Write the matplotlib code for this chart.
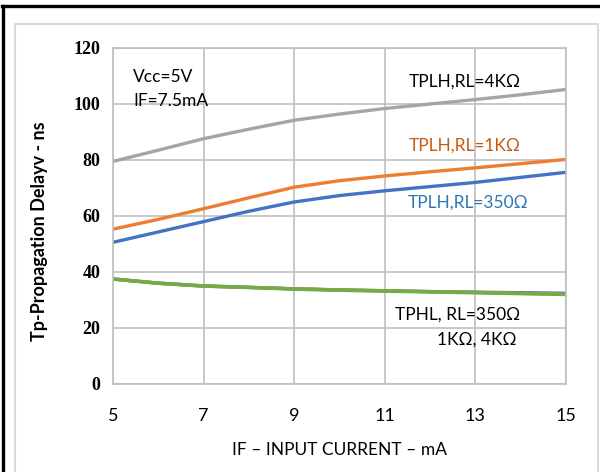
import matplotlib
matplotlib.use("Agg")
import matplotlib.pyplot as plt
from matplotlib.lines import Line2D
from matplotlib.patches import Rectangle

# input current, mA
i_f = [5, 6, 7, 8, 9, 10, 11, 12, 13, 14, 15]

# propagation delay, ns
tplh_4k = [79.5, 83.5, 87.6, 91.0, 94.2, 96.4, 98.4, 100.0, 101.6, 103.3, 105.2]
tplh_1k = [55.3, 58.8, 62.6, 66.5, 70.3, 72.6, 74.3, 75.8, 77.2, 78.7, 80.2]
tplh_350 = [50.6, 54.3, 58.0, 61.7, 65.0, 67.3, 69.0, 70.5, 72.0, 73.8, 75.6]
tphl_350 = [37.5, 36.0, 35.0, 34.5, 34.0, 33.6, 33.3, 33.0, 32.8, 32.6, 32.4]
tphl_1k = [37.5, 36.0, 35.0, 34.5, 34.0, 33.6, 33.3, 33.0, 32.7, 32.4, 32.1]
tphl_4k = [37.5, 36.0, 35.0, 34.5, 33.9, 33.5, 33.2, 32.9, 32.6, 32.3, 32.0]

x_ticks = [5, 7, 9, 11, 13, 15]
y_ticks = [0, 20, 40, 60, 80, 100, 120]

sans = ['Lato', 'DejaVu Sans']

W, H = 600, 472
fig = plt.figure(figsize=(6, 4.72), dpi=100)

# outer frame bits
fig.add_artist(Line2D([2 / W, 1], [1 - 6 / H, 1 - 6 / H], color='black', lw=2.4))
fig.add_artist(Line2D([3 / W, 3 / W], [0, 1 - 6 / H], color='black', lw=2.4))
fig.add_artist(Rectangle((15 / W, -0.1), 583 / W, 1.1 - 24 / H, fill=False,
                         edgecolor='#d9d9d9', lw=1.5))

ax = fig.add_axes([113 / W, (H - 384) / H, 453 / W, 336 / H])

ax.plot(i_f, tplh_4k, color='#a5a5a5', lw=2.4, solid_capstyle='butt')
ax.plot(i_f, tplh_1k, color='#ed7d31', lw=2.4, solid_capstyle='butt')
ax.plot(i_f, tplh_350, color='#4472c4', lw=2.4, solid_capstyle='butt')
ax.plot(i_f, tphl_350, color='#4472c4', lw=2.4, solid_capstyle='butt')
ax.plot(i_f, tphl_1k, color='#ed7d31', lw=2.4, solid_capstyle='butt')
ax.plot(i_f, tphl_4k, color='#70ad47', lw=2.6, solid_capstyle='butt')

ax.set_xlim(5, 15)
ax.set_ylim(0, 120)
ax.set_xticks(x_ticks)
ax.set_yticks(y_ticks)
ax.set_xticklabels([str(v) for v in x_ticks], family=sans, fontsize=13)
ax.set_yticklabels([str(v) for v in y_ticks], family='Liberation Serif',
                   fontsize=13, fontweight='bold')
ax.tick_params(axis='x', length=0, pad=17)
ax.tick_params(axis='y', length=0, pad=9)
ax.grid(True, color='#bfbfbf', lw=1.2)
ax.set_axisbelow(True)
for s in ax.spines.values():
    s.set_color('#bfbfbf')
    s.set_linewidth(1.2)

ax.set_ylabel('Tp-Propagation Delayv - ns', fontsize=13, fontweight='bold',
              family=sans)
ax.yaxis.set_label_coords(-0.143, 0.455)
ax.set_xlabel('IF \u2013 INPUT CURRENT \u2013 mA', fontsize=12.5, family=sans)
ax.xaxis.set_label_coords(0.501, -0.173)

ax.text(5.44, 109.6, 'Vcc=5V', fontsize=12.5, family=sans, va='center')
ax.text(5.44, 101.0, 'IF=7.5mA', fontsize=12.5, family=sans, va='center')
ax.text(12.77, 107.9, 'TPLH,RL=4K\u03a9', fontsize=12.5, family=sans,
        ha='center', va='center', color='black')
ax.text(12.77, 85.0, 'TPLH,RL=1K\u03a9', fontsize=12.5, family=sans,
        ha='center', va='center', color='#c55a11')
ax.text(12.84, 64.6, 'TPLH,RL=350\u03a9', fontsize=12.5, family=sans,
        ha='center', va='center', color='#2e75b6')
ax.text(12.6, 24.6, 'TPHL, RL=350\u03a9', fontsize=12.5, family=sans,
        ha='center', va='center')
ax.text(13.04, 16.0, '1K\u03a9, 4K\u03a9', fontsize=12.5, family=sans,
        ha='center', va='center')

fig.savefig('out.png', dpi=100)
